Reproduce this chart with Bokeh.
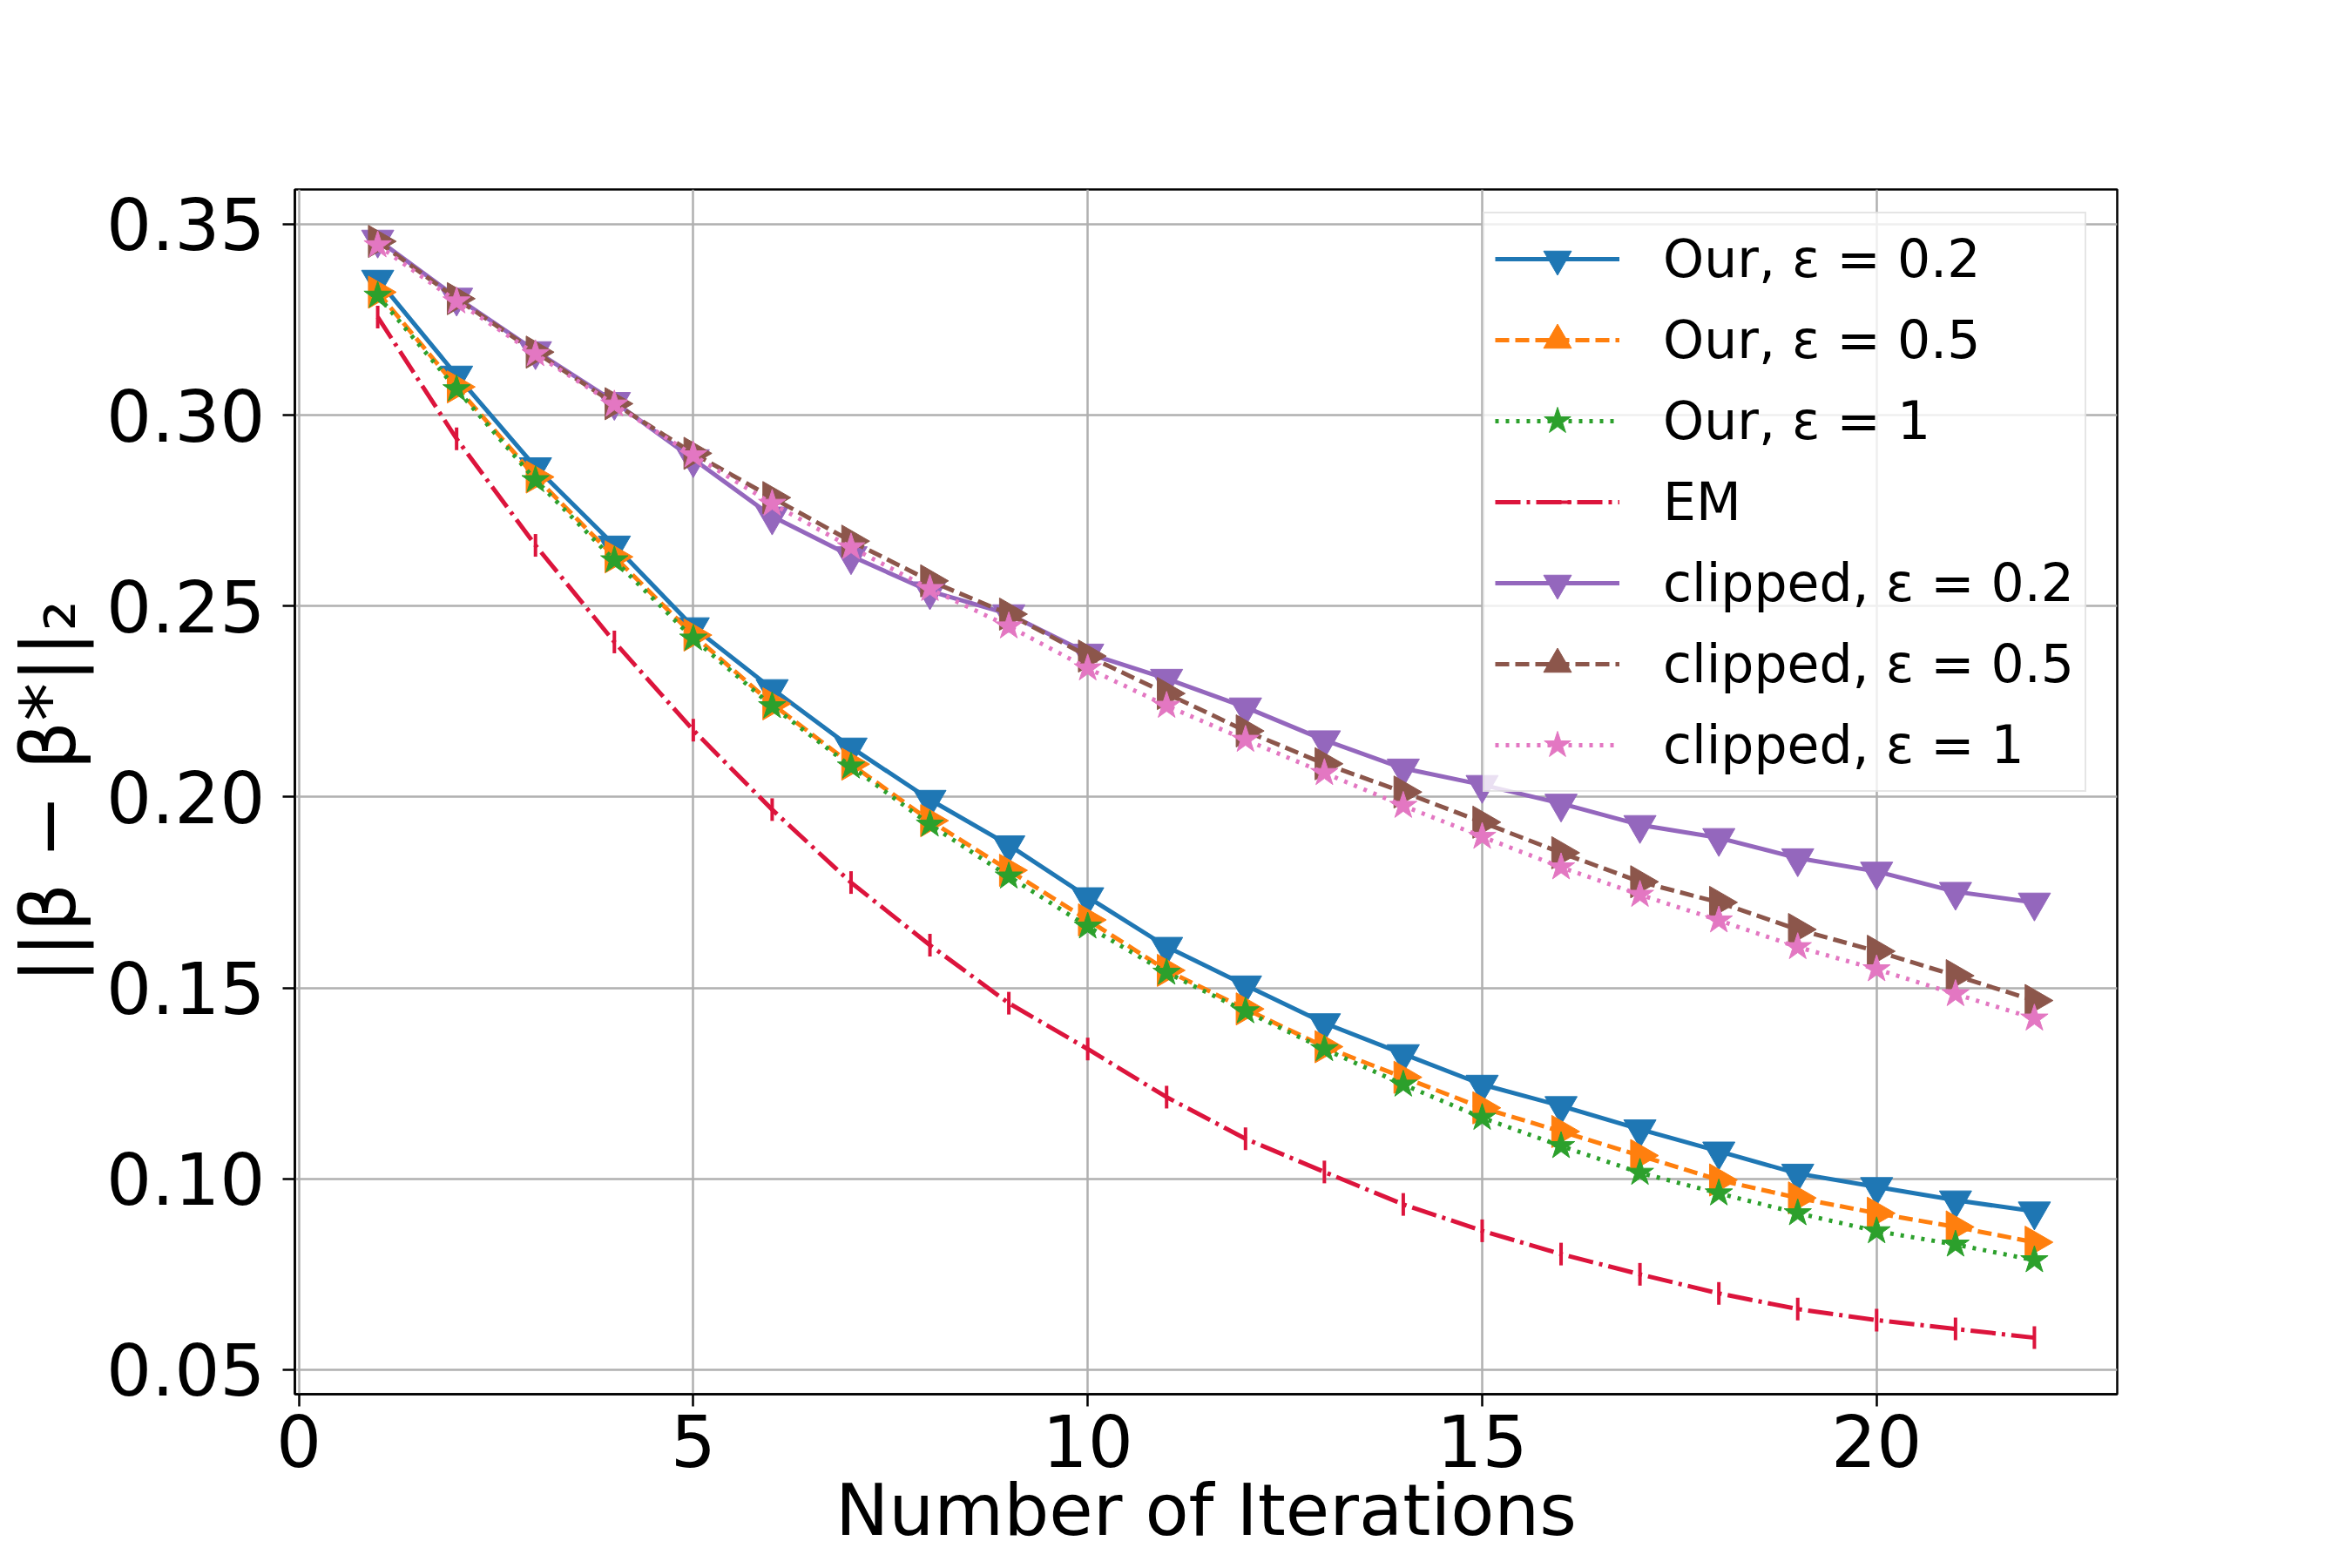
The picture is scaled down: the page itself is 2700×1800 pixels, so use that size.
import numpy as np
from bokeh.plotting import figure
from bokeh.models import Range1d, Legend, LegendItem, FixedTicker, PrintfTickFormatter
from bokeh.embed import file_html
from bokeh.resources import INLINE

iterations = list(range(1, 23))

our_02 = [0.3355, 0.3104, 0.2864, 0.2659, 0.2445, 0.2283, 0.2130, 0.1993, 0.1874, 0.1738, 0.1608,
          0.1507, 0.1408, 0.1327, 0.1247, 0.1191, 0.1130, 0.1072, 0.1014, 0.0979, 0.0944, 0.0915]
our_05 = [0.3322, 0.3074, 0.2838, 0.2629, 0.2424, 0.2244, 0.2086, 0.1938, 0.1808, 0.1678, 0.1546,
          0.1445, 0.1346, 0.1266, 0.1186, 0.1124, 0.1061, 0.0997, 0.0950, 0.0910, 0.0874, 0.0834]
our_1 = [0.3313, 0.3068, 0.2830, 0.2620, 0.2415, 0.2238, 0.2080, 0.1928, 0.1792, 0.1661, 0.1540,
         0.1439, 0.1340, 0.1247, 0.1160, 0.1086, 0.1016, 0.0962, 0.0910, 0.0863, 0.0828, 0.0787]
em = [0.3257, 0.2938, 0.2659, 0.2406, 0.2175, 0.1967, 0.1776, 0.1612, 0.1460, 0.1340, 0.1214,
      0.1105, 0.1018, 0.0933, 0.0864, 0.0803, 0.0750, 0.0700, 0.0659, 0.0630, 0.0607, 0.0584]
clip_02 = [0.3460, 0.3308, 0.3168, 0.3035, 0.2885, 0.2735, 0.2631, 0.2539, 0.2479, 0.2376, 0.2310,
           0.2235, 0.2149, 0.2075, 0.2032, 0.1983, 0.1927, 0.1893, 0.1840, 0.1805, 0.1752, 0.1724]
clip_05 = [0.3455, 0.3305, 0.3165, 0.3030, 0.2900, 0.2784, 0.2670, 0.2566, 0.2479, 0.2369, 0.2271,
           0.2173, 0.2087, 0.2013, 0.1934, 0.1854, 0.1778, 0.1724, 0.1653, 0.1596, 0.1532, 0.1467]
clip_1 = [0.3445, 0.3298, 0.3160, 0.3028, 0.2895, 0.2768, 0.2654, 0.2545, 0.2447, 0.2337, 0.2239,
          0.2150, 0.2063, 0.1977, 0.1896, 0.1816, 0.1744, 0.1677, 0.1607, 0.1549, 0.1484, 0.1420]

labels = ["Our, ε = 0.2", "Our, ε = 0.5", "Our, ε = 1", "EM",
          "clipped, ε = 0.2", "clipped, ε = 0.5", "clipped, ε = 1"]
series = [our_02, our_05, our_1, em, clip_02, clip_05, clip_1]

x_ticks = [0, 5, 10, 15, 20]
y_ticks = [0.05, 0.10, 0.15, 0.20, 0.25, 0.30, 0.35]

colors = ["#1f77b4", "#ff7f0e", "#2ca02c", "#dc143c", "#9467bd", "#8c564b", "#e377c2"]
dashes = ["solid", "16 7", "4 8", "29 7 4 7", "solid", "16 7", "4 8"]
markers = ["inverted_triangle", "triangle", "star", "dash", "inverted_triangle", "triangle", "star"]
angles = [0.0, -np.pi / 2, 0.0, np.pi / 2, 0.0, -np.pi / 2, 0.0]
sizes = [37, 37, 33, 26, 37, 37, 33]

FONT = "DejaVu Sans"

p = figure(width=2684, height=1784, output_backend="svg", toolbar_location=None,
           x_range=Range1d(-0.05, 23.05), y_range=Range1d(0.0436, 0.3591),
           min_border_left=337, min_border_right=254, min_border_top=217, min_border_bottom=184)
p.background_fill_color = "white"
p.border_fill_color = "white"
p.outline_line_color = "black"
p.outline_line_width = 2.5

p.xaxis.ticker = FixedTicker(ticks=x_ticks)
p.yaxis.ticker = FixedTicker(ticks=y_ticks)
p.yaxis.formatter = PrintfTickFormatter(format="%.2f")
for ax in (p.xaxis, p.yaxis):
    ax.major_label_text_font = FONT
    ax.major_label_text_font_size = "82px"
    ax.major_label_text_color = "black"
    ax.major_tick_out = 14
    ax.major_tick_in = 0
    ax.minor_tick_out = 0
    ax.minor_tick_in = 0
    ax.major_tick_line_width = 2.5
    ax.major_tick_line_color = "black"
    ax.axis_line_width = 2.5
    ax.axis_line_color = "black"
    ax.axis_label_text_font = FONT
    ax.axis_label_text_font_style = "normal"
    ax.axis_label_text_color = "black"
p.xaxis.major_label_standoff = 9
p.yaxis.major_label_standoff = 20

p.xaxis.axis_label = "Number of Iterations"
p.xaxis.axis_label_text_font_size = "82px"
p.xaxis.axis_label_standoff = -1
p.yaxis.axis_label = "||β − β*||₂"
p.yaxis.axis_label_text_font_size = "88px"
p.yaxis.axis_label_standoff = 12

p.grid.grid_line_color = "#b0b0b0"
p.grid.grid_line_width = 2.5
p.xgrid.ticker = FixedTicker(ticks=x_ticks)
p.ygrid.ticker = FixedTicker(ticks=y_ticks)

items = []
for lab, ys, c, d, m, a, s in zip(labels, series, colors, dashes, markers, angles, sizes):
    lr = p.line(iterations, ys, line_color=c, line_width=5, line_dash=d)
    if m == "dash":
        sr = p.scatter(iterations, ys, marker=m, size=s, angle=a, line_color=c, line_width=4)
    else:
        sr = p.scatter(iterations, ys, marker=m, size=s, angle=a, line_color=c, fill_color=c, line_width=1)
    items.append(LegendItem(label=lab, renderers=[lr, sr]))

legend = Legend(items=items, location=(1364, 691))
legend.label_text_font = FONT
legend.label_text_font_size = "60px"
legend.label_text_color = "black"
legend.glyph_width = 143
legend.glyph_height = 80
legend.label_height = 80
legend.label_standoff = 50
legend.spacing = 13
legend.padding = 12
legend.margin = 0
legend.border_line_color = "#cccccc"
legend.border_line_width = 2.5
legend.background_fill_color = "white"
legend.background_fill_alpha = 0.8
p.add_layout(legend)

open("out.html", "w").write(file_html(p, INLINE))
